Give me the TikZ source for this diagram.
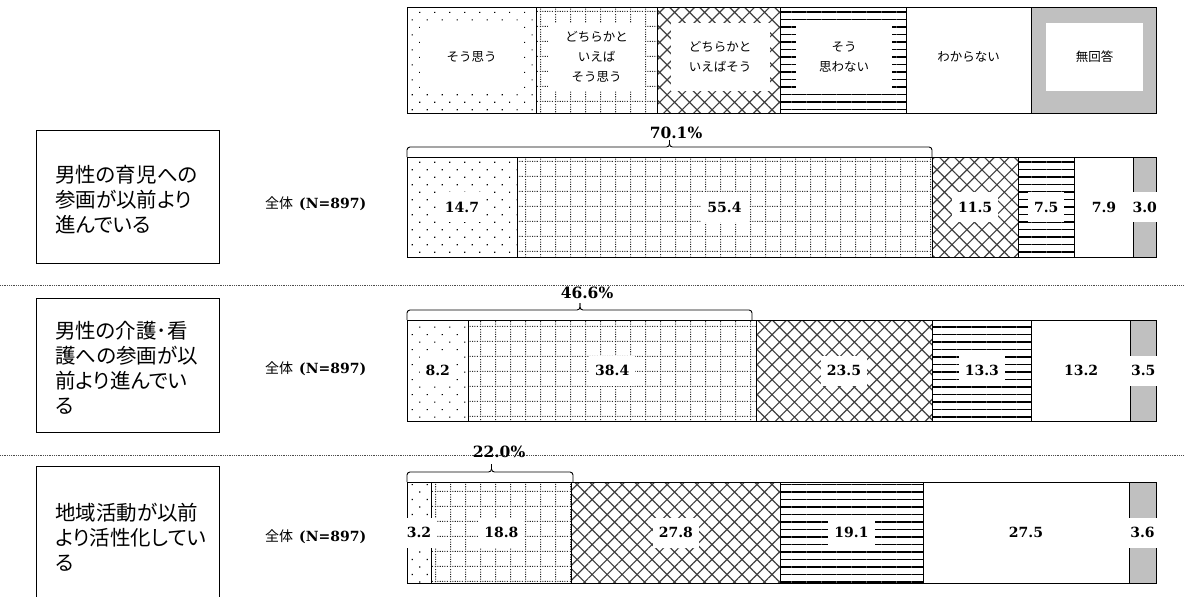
\documentclass[tikz,border=0pt]{standalone}
\usepackage{fontspec}
\setmainfont{DejaVu Serif}
\newfontfamily\jpfont{Noto Sans CJK JP}
\newfontfamily\jppfont[RawFeature=+palt]{Noto Sans CJK JP}
\usepackage{tikz}
\usetikzlibrary{patterns.meta}
\definecolor{nagray}{HTML}{C0C0C0}
\definecolor{hatchgray}{HTML}{404040}

\tikzdeclarepattern{
  name=dotgrid, type=uncolored,
  bottom left={(0pt,0pt)}, top right={(15pt,15pt)},
  tile size={(15pt,15pt)},
  code={
    \draw[line width=1.1pt, dash pattern=on 1.1pt off 1.4pt]
      (0pt,0.55pt) -- (15pt,0.55pt) (0.55pt,0pt) -- (0.55pt,15pt);
  }
}

\begin{document}
\begin{tikzpicture}[x=1pt,y=-1pt]
            \tikzstyle{segbox}=[draw=black, line width=0.9pt]
            \tikzstyle{pagree}=[segbox, pattern={Dots[distance=10.6pt, angle=45, radius=0.8pt]}]
            \tikzstyle{pratheragree}=[segbox, pattern=dotgrid, pattern color=black!85]
            \tikzstyle{pratherdis}=[segbox, pattern={Hatch[angle=45, distance=10.6pt, line width=1.2pt]}, pattern color=hatchgray]
            \tikzstyle{pdisagree}=[segbox, pattern={Lines[distance=7.5pt, line width=1.5pt]}]
            \tikzstyle{pdontknow}=[segbox, fill=white]
            \tikzstyle{pnoanswer}=[segbox, fill=nagray]
            \tikzstyle{valnode}=[fill=white, font=\bfseries\fontsize{14}{16}\selectfont, inner xsep=6pt, inner ysep=0pt, minimum height=30pt]
            \tikzstyle{pctnode}=[font=\bfseries\fontsize{15.5}{18}\selectfont, inner sep=0pt]
            \tikzstyle{qbox}=[draw, line width=0.9pt]
            \tikzstyle{qtext}=[anchor=west, align=left, inner sep=0pt, font=\jppfont\fontsize{20.5}{25}\selectfont]
            \tikzstyle{ntext}=[anchor=west, inner sep=0pt]
            \tikzstyle{legtext}=[fill=white, minimum width=97pt, minimum height=68pt, align=center, inner sep=0pt, font=\jpfont\fontsize{12.5}{20}\selectfont]
            \tikzstyle{bracket}=[line width=0.9pt, rounded corners=3pt]
            \tikzstyle{rowline}=[line width=0.8pt, densely dotted, black!70]
            \useasboundingbox (0,0) rectangle (1184,597);
            % legend
            \draw[pagree] (407,7) rectangle (536,113);
            \draw[pratheragree] (536,7) rectangle (657,113);
            \draw[pratherdis] (657,7) rectangle (780,113);
            \draw[pdisagree] (780,7) rectangle (906,113);
            \draw[pdontknow] (906,7) rectangle (1031,113);
            \draw[pnoanswer] (1031,7) rectangle (1156,113);
            \node[legtext, minimum width=103pt] (lgagree) at (471.5,57) {そう思う};
            \node[legtext] (lgratheragree) at (596.5,57) {どちらかと\\いえば\\そう思う};
            \node[legtext, minimum width=99pt] (lgratherdis) at (720,57) {どちらかと\\いえばそう};
            \node[legtext, minimum width=96pt] (lgdisagree) at (844,57) {そう\\思わない};
            \node[legtext] (lgdontknow) at (968.5,57) {わからない};
            \node[legtext] (lgnoanswer) at (1094.5,57) {無回答};
            % separators
            \draw[rowline] (0,285) -- (1184,285);
            \draw[rowline] (0,455) -- (1184,455);
            % row 1
            \draw[qbox] (36,130) rectangle (219,263);
            \node[qtext] (q1) at (55,200) {男性の育児への\\参画が以前より\\進んでいる};
            \node[ntext] (n1) at (265,204) {{\jpfont\fontsize{14}{16}\selectfont 全体}\hspace{6pt}{\bfseries\fontsize{14}{16}\selectfont (N=897)}};
            \draw[pagree] (407,157) rectangle (517.1,257);
            \draw[pratheragree] (517.1,157) rectangle (932.0,257);
            \draw[pratherdis] (932.0,157) rectangle (1018.2,257);
            \draw[pdisagree] (1018.2,157) rectangle (1074.4,257);
            \draw[pdontknow] (1074.4,157) rectangle (1133.5,257);
            \draw[pnoanswer] (1133.5,157) rectangle (1156,257);
            \node[valnode] (v11) at (462,207) {14.7};
            \node[valnode] (v12) at (724.5,207) {55.4};
            \node[valnode] (v13) at (975.1,207) {11.5};
            \node[valnode] (v14) at (1046.3,207) {7.5};
            \node[valnode] (v15) at (1104,207) {7.9};
            \node[valnode] (v16) at (1144.8,207) {3.0};
            \coordinate (b1l) at (407,157);
            \coordinate (b1r) at (932,157);
            \coordinate (b1t) at (669.5,140);
            \draw[bracket] (b1l) -- ++(0,-10) -| (b1t);
            \draw[bracket] (b1r) -- ++(0,-10) -| (b1t);
            \node[pctnode] (p1) at (676,133) {70.1\%};
            % row 2
            \draw[qbox] (36,298) rectangle (219,432);
            \node[qtext] (q2) at (55,368) {男性の介護･看\\護への参画が以\\前より進んでい\\る};
            \node[ntext] (n2) at (265,369) {{\jpfont\fontsize{14}{16}\selectfont 全体}\hspace{6pt}{\bfseries\fontsize{14}{16}\selectfont (N=897)}};
            \draw[pagree] (407,320) rectangle (468.4,421);
            \draw[pratheragree] (468.4,320) rectangle (756.0,421);
            \draw[pratherdis] (756.0,320) rectangle (932.0,421);
            \draw[pdisagree] (932.0,320) rectangle (1031.7,421);
            \draw[pdontknow] (1031.7,320) rectangle (1130.5,421);
            \draw[pnoanswer] (1130.5,320) rectangle (1156,421);
            \node[valnode] (v21) at (437.7,370.5) {8.2};
            \node[valnode] (v22) at (612.2,370.5) {38.4};
            \node[valnode] (v23) at (844,370.5) {23.5};
            \node[valnode] (v24) at (981.9,370.5) {13.3};
            \node[valnode] (v25) at (1081.1,370.5) {13.2};
            \node[valnode] (v26) at (1143.3,370.5) {3.5};
            \coordinate (b2l) at (407,320);
            \coordinate (b2r) at (752,320);
            \coordinate (b2t) at (580,303);
            \draw[bracket] (b2l) -- ++(0,-10) -| (b2t);
            \draw[bracket] (b2r) -- ++(0,-10) -| (b2t);
            \node[pctnode] (p2) at (587,293) {46.6\%};
            % row 3
            \draw[qbox] (36,466) rectangle (219,600);
            \node[qtext] (q3) at (55,537) {地域活動が以前\\より活性化してい\\る};
            \node[ntext] (n3) at (265,537) {{\jpfont\fontsize{14}{16}\selectfont 全体}\hspace{6pt}{\bfseries\fontsize{14}{16}\selectfont (N=897)}};
            \draw[pagree] (407,482) rectangle (431.0,583);
            \draw[pratheragree] (431.0,482) rectangle (571.8,583);
            \draw[pratherdis] (571.8,482) rectangle (780.0,583);
            \draw[pdisagree] (780.0,482) rectangle (923.1,583);
            \draw[pdontknow] (923.1,482) rectangle (1129.0,583);
            \draw[pnoanswer] (1129.0,482) rectangle (1156,583);
            \node[valnode] (v31) at (419,532.5) {3.2};
            \node[valnode] (v32) at (501.4,532.5) {18.8};
            \node[valnode] (v33) at (675.9,532.5) {27.8};
            \node[valnode] (v34) at (851.5,532.5) {19.1};
            \node[valnode] (v35) at (1026,532.5) {27.5};
            \node[valnode] (v36) at (1142.5,532.5) {3.6};
            \coordinate (b3l) at (407,482);
            \coordinate (b3r) at (573,482);
            \coordinate (b3t) at (491.5,464);
            \draw[bracket] (b3l) -- ++(0,-10) -| (b3t);
            \draw[bracket] (b3r) -- ++(0,-10) -| (b3t);
            \node[pctnode] (p3) at (499,452) {22.0\%};
        \end{tikzpicture}
\end{document}
